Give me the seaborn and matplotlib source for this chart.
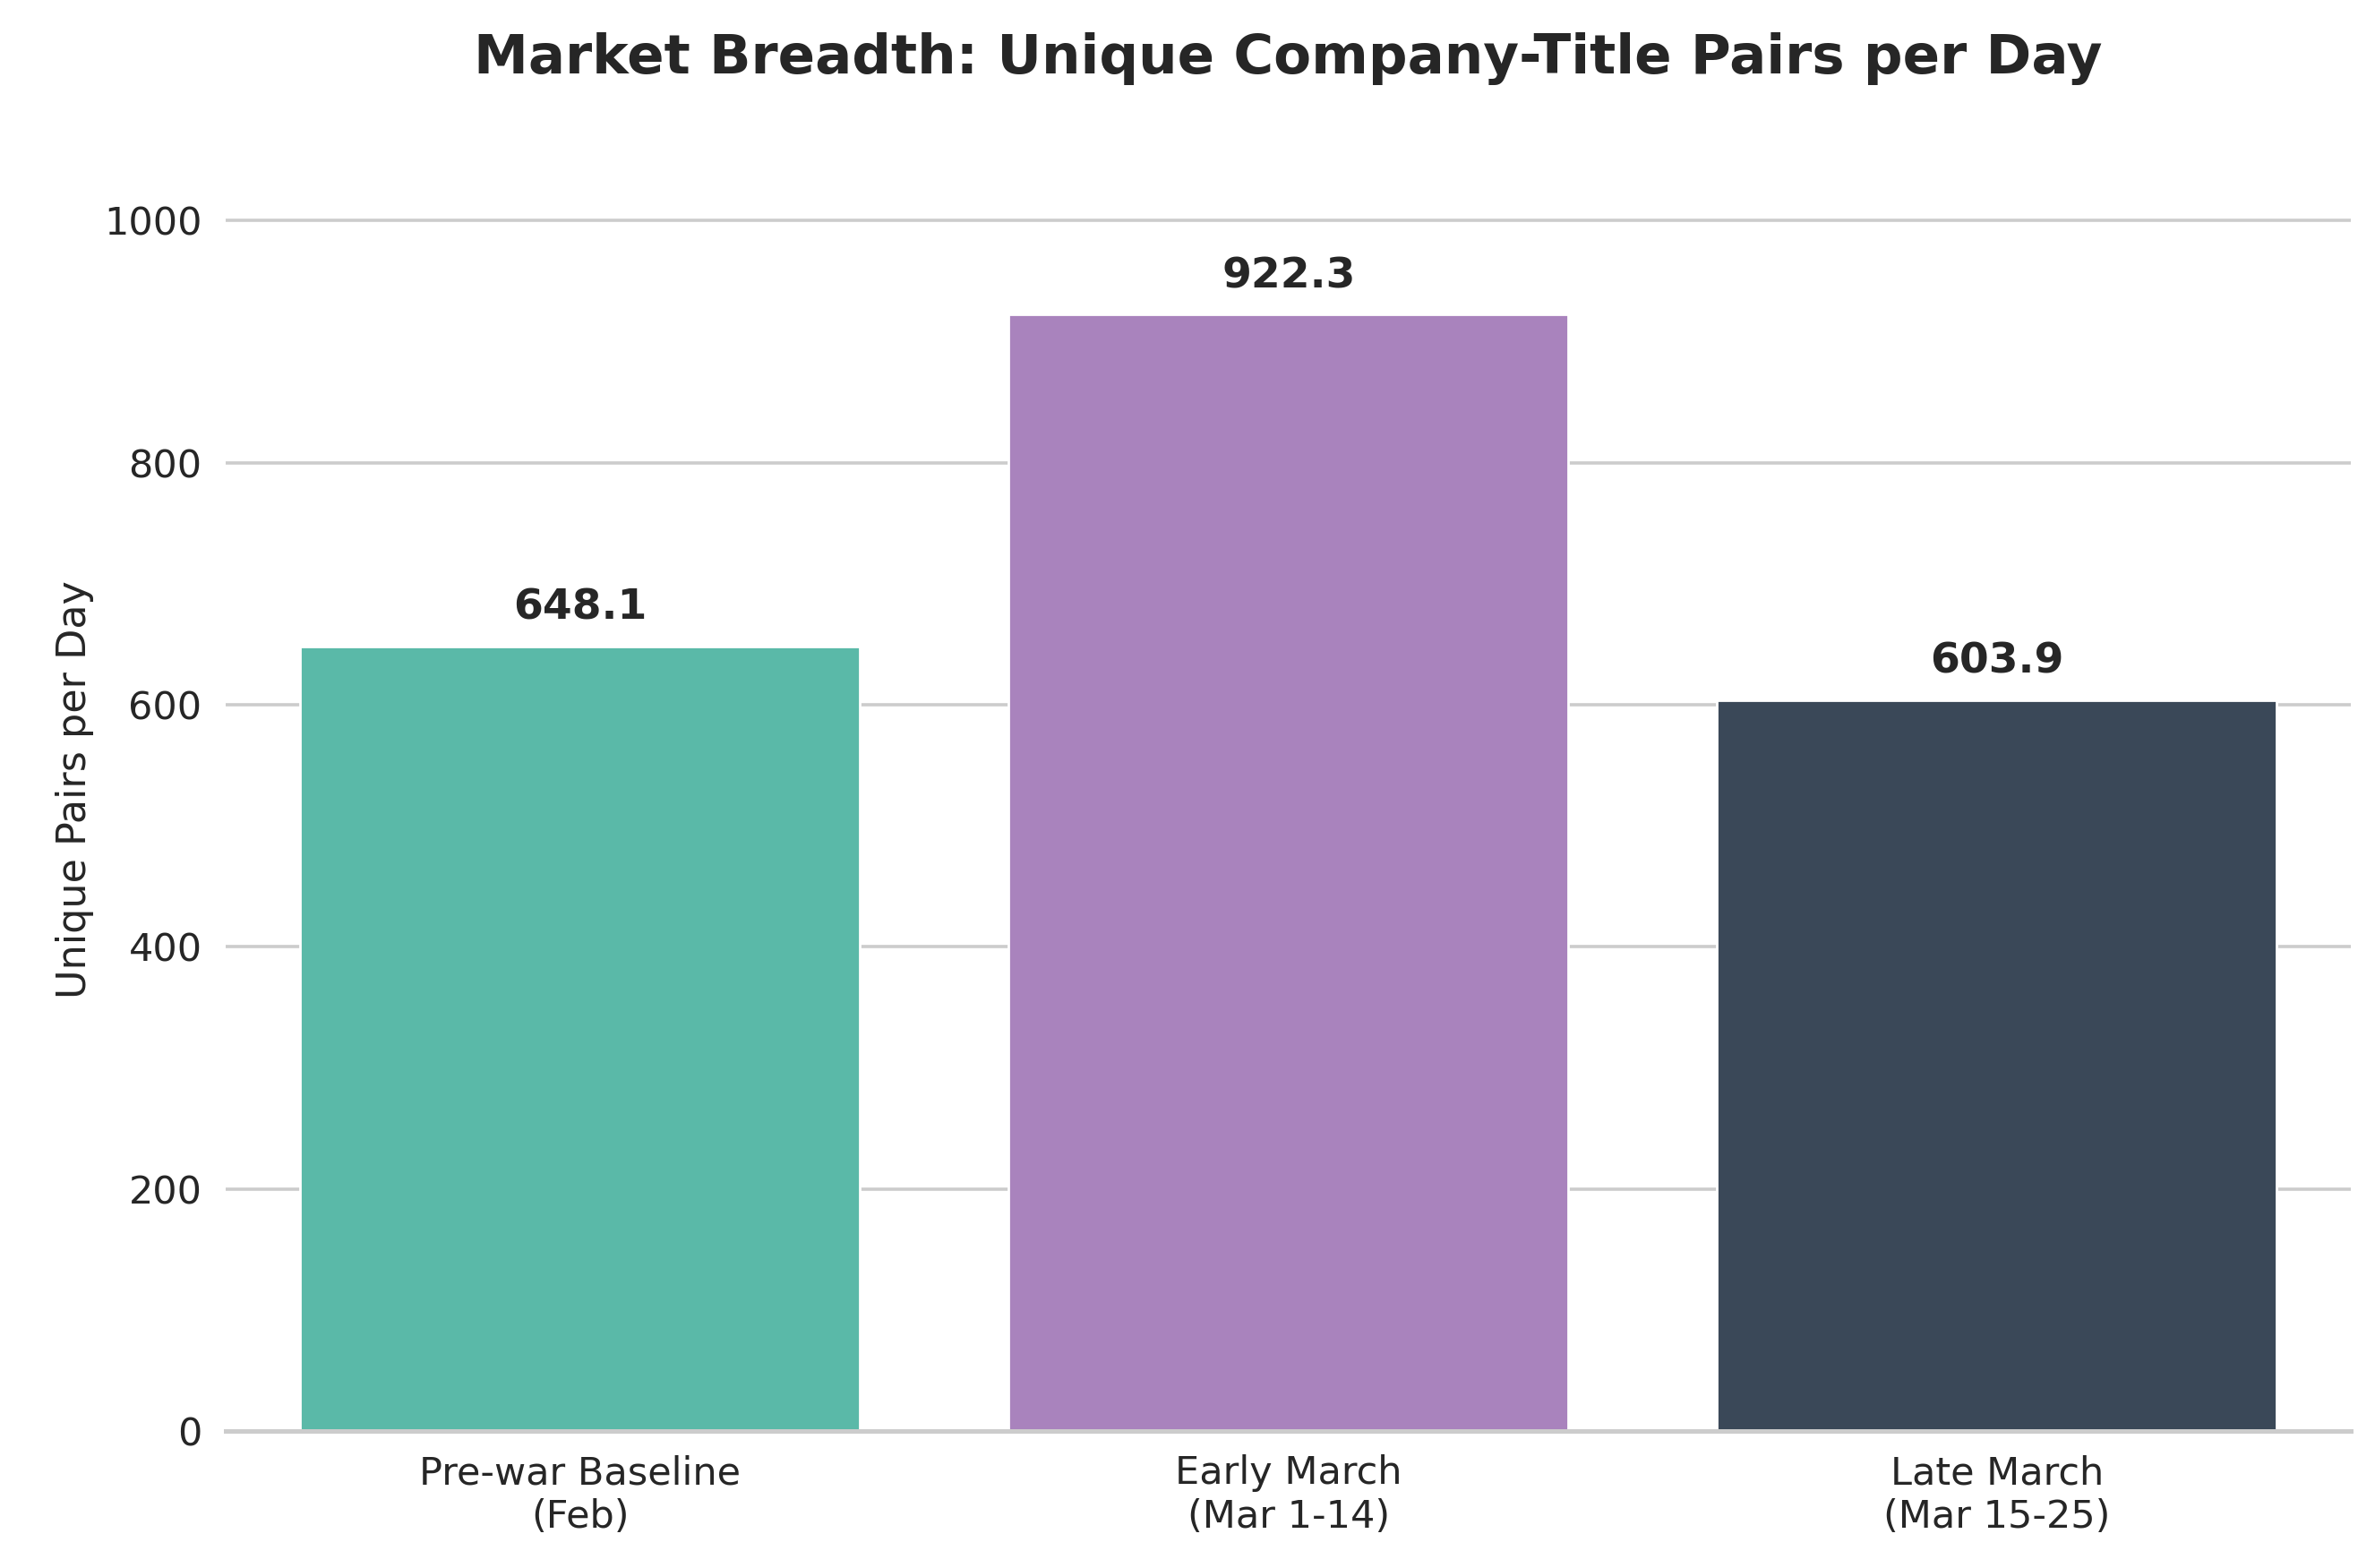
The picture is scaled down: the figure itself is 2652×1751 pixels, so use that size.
import matplotlib
matplotlib.use("Agg")
import matplotlib.pyplot as plt
import seaborn as sns
import pandas as pd

categories = ["Pre-war Baseline\n(Feb)", "Early March\n(Mar 1-14)", "Late March\n(Mar 15-25)"]
values = [648.1, 922.3, 603.9]
colors = ["#5ab9a8", "#a983bd", "#3a4858"]

sns.set_theme(style="whitegrid")
plt.rcParams['font.family'] = ['DejaVu Sans']
df = pd.DataFrame({"cat": categories, "val": values})
fig, ax = plt.subplots(figsize=(13.26, 8.755), dpi=200)
sns.barplot(data=df, x="cat", y="val", hue="cat", palette=colors, legend=False, ax=ax,
            width=0.79, saturation=1)
for i, v in enumerate(values):
    ax.text(i, v + 15, f"{v:.1f}", ha="center", va="bottom", fontsize=17, fontweight="bold", color="#262626")
ax.set_ylim(0, 1060)
ax.set_yticks([0, 200, 400, 600, 800, 1000])
ax.set_xlabel("")
ax.set_ylabel("Unique Pairs per Day", fontsize=16)
ax.set_title("Market Breadth: Unique Company-Title Pairs per Day", fontsize=22, fontweight="bold", pad=30)
ax.tick_params(labelsize=15.5)
ax.grid(axis="x", visible=False)
ax.grid(axis="y", color="#cccccc", linewidth=1.3)
for s in ["top", "right", "left"]:
    ax.spines[s].set_visible(False)
ax.spines["bottom"].set_color("#cccccc")
ax.spines["bottom"].set_linewidth(1.8)
plt.tight_layout()
fig.subplots_adjust(left=0.095, right=0.99)
fig.savefig("out.png", dpi=200)
